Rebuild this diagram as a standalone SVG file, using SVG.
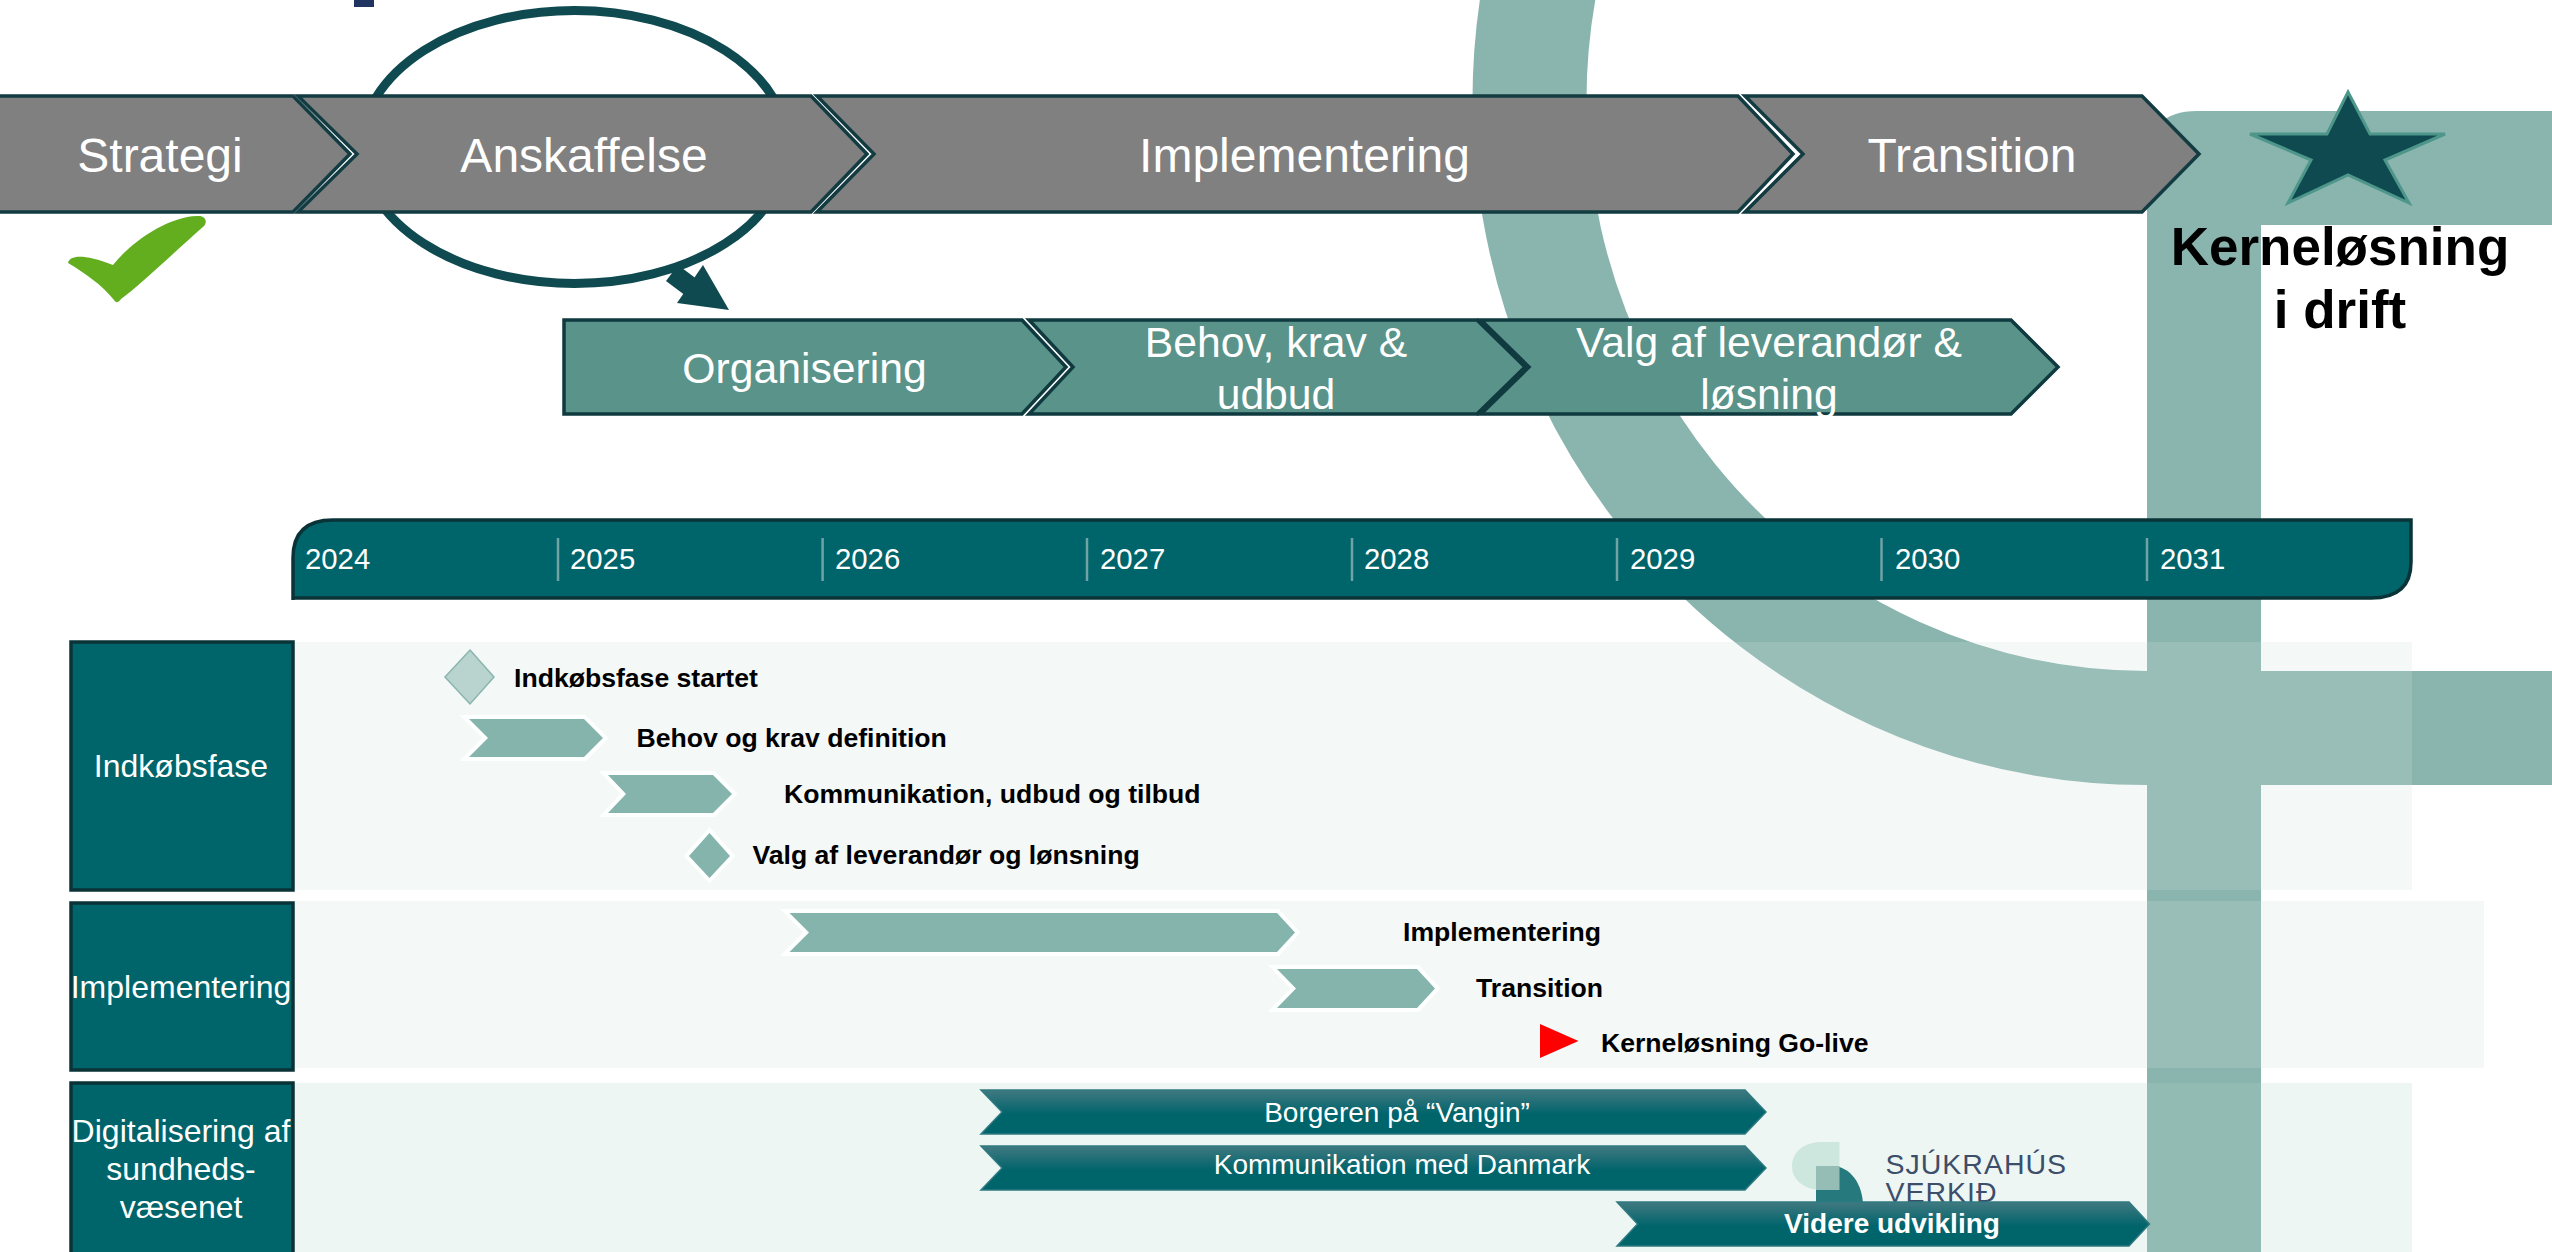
<svg xmlns="http://www.w3.org/2000/svg" width="2552" height="1252" viewBox="0 0 2552 1252">
<style>
text{font-family:"Liberation Sans",Arial,sans-serif}
.band{fill:#808080;stroke:#123c42;stroke-width:3.5}
.sub{fill:#5a9389;stroke:#0f3a3f;stroke-width:3.5}
.bt{font-size:48px;fill:#fff;text-anchor:middle}
.st{font-size:42.7px;fill:#fff;text-anchor:middle}
.bg{fill:#8ab5ae}
.panel{fill:#ccdeda;fill-opacity:.214}
.lab{fill:#00646b;stroke:#0a3338;stroke-width:3.5}
.lt{font-size:32px;fill:#fff;text-anchor:middle}
.yr{font-size:29.3px;fill:#fff}
.tick{stroke:#6fa3a5;stroke-width:2.5}
.it{font-size:26.6px;font-weight:bold;fill:#000}
.kn{font-size:53px;font-weight:bold;fill:#000;text-anchor:middle}
.chev{fill:#85b4ad;stroke:#fff;stroke-width:8;stroke-opacity:.9;paint-order:stroke}
.dark{fill:url(#g);stroke:#2f7a80;stroke-width:1.5}
.dt{font-size:28px;fill:#fff;text-anchor:middle}
.logo{font-size:28.5px;fill:#3c4e6a;letter-spacing:1px}
</style>
<defs>
<linearGradient id="g" x1="0" y1="0" x2="0" y2="1"><stop offset="0" stop-color="#417981"/><stop offset=".55" stop-color="#00646b"/><stop offset="1" stop-color="#00646b"/></linearGradient>
</defs>

<g id="backdrop">
<path class="bg" d="M2147,1252V161Q2147,111 2197,111H2552V225H2261V1252Z"/>
<path d="M1541,-20A617 628 0 0 0 2147,728H2552" fill="none" stroke="#8ab5ae" stroke-width="114"/>
<rect x="354" y="0" width="20" height="7" fill="#1f3560"/>
</g>

<g id="panels">
<rect class="panel" x="293" y="642" width="2119" height="248"/>
<rect class="panel" x="293" y="901" width="2191" height="167"/>
<rect x="293" y="1083" width="2119" height="169" fill="#b0d5c7" fill-opacity=".214"/>
</g>

<g id="connectors">
<ellipse cx="574.500" cy="147" rx="213" ry="136.500" fill="none" stroke="#0f4a50" stroke-width="9"/>
<path d="M672,273L692,288" stroke="#0f4a50" stroke-width="20" fill="none"/>
<polygon points="703,265 729,310 677,303" fill="#0f4a50"/>
</g>

<g id="check"><path d="M68,263C70,255 84,254 113,265C132,241 168,217 197,216C205,215 208,221 204,226C168,258 139,286 121,299C118,303 116,303 114,300C102,285 85,273 68,263Z" fill="#62ae1f"/></g>

<g id="strategi"><polygon class="band" points="-4,96 293,96 350,154 293,212 -4,212"/><text class="bt" x="160" y="172">Strategi</text></g>
<g id="anskaffelse"><polygon class="band" points="298,96 811,96 867,154 811,212 298,212 357,154"/><text class="bt" x="584" y="172">Anskaffelse</text></g>
<g id="implementering"><polygon class="band" points="817,96 1738,96 1793,154 1738,212 817,212 874,154"/><text class="bt" x="1304.500" y="172">Implementering</text></g>
<g id="transition"><polygon class="band" points="1745,96 2142,96 2199,154 2142,212 1745,212 1803,154"/><text class="bt" x="1972" y="172">Transition</text></g>

<g id="kerne">
<polygon points="2348,92 2370,134 2445,134 2385,160 2409,203 2348,175 2288,203 2311,160 2250,134 2327,134" fill="#0f4a50" stroke="#4d9689" stroke-width="3"/>
<text class="kn" x="2340" y="265">Kerneløsning</text>
<text class="kn" x="2340" y="328">i drift</text>
</g>

<g id="organisering"><polygon class="sub" points="564,320 1022,320 1066,367 1022,414 564,414"/><text class="st" x="804.500" y="383">Organisering</text></g>
<g id="behov"><polygon class="sub" points="1029,320 1477,320 1525,367 1477,414 1029,414 1073,367"/><text class="st" x="1276" y="357">Behov, krav &amp;</text><text class="st" x="1276" y="409">udbud</text></g>
<g id="valg"><polygon class="sub" points="1481,320 2011,320 2058,367 2011,414 1481,414 1529,367"/><text class="st" x="1769" y="357">Valg af leverandør &amp;</text><text class="st" x="1769" y="409">løsning</text></g>

<g id="timeline">
<path d="M293,600V558Q293,520 333,520H2411V562Q2411,598 2371,598H293Z" fill="#00646b" stroke="#0a3338" stroke-width="3.500"/>
<path class="tick" d="M558,538V581M822.600,538V581M1087,538V581M1352,538V581M1617,538V581M1881.500,538V581M2147,538V581"/>
<text class="yr" x="305" y="569">2024</text><text class="yr" x="570" y="569">2025</text><text class="yr" x="835" y="569">2026</text><text class="yr" x="1100" y="569">2027</text><text class="yr" x="1364" y="569">2028</text><text class="yr" x="1630" y="569">2029</text><text class="yr" x="1895" y="569">2030</text><text class="yr" x="2160" y="569">2031</text>
</g>

<g id="row-indkob">
<rect class="lab" x="71" y="642" width="222" height="248"/><text class="lt" x="181" y="777">Indkøbsfase</text>
</g>
<g id="row-impl">
<rect class="lab" x="71" y="903" width="222" height="167"/><text class="lt" x="181" y="998">Implementering</text>
</g>
<g id="row-digi">
<rect class="lab" x="71" y="1083" width="222" height="180"/><text class="lt" x="181" y="1142">Digitalisering af</text><text class="lt" x="181" y="1180">sundheds-</text><text class="lt" x="181" y="1218">væsenet</text>
</g>

<g id="m-start"><polygon points="470,650 494,677 470,704 445,677" fill="#b9d4cf" stroke="#8ab5ae" stroke-width="1.500"/><text class="it" x="514" y="687">Indkøbsfase startet</text></g>
<g id="t-behov"><polygon class="chev" points="469,719 584,719 603,738 584,757 469,757 488,738"/><text class="it" x="636.500" y="747">Behov og krav definition</text></g>
<g id="t-komm"><polygon class="chev" points="608,775 713,775 732,794 713,813 608,813 626,794"/><text class="it" x="784" y="803">Kommunikation, udbud og tilbud</text></g>
<g id="m-valg"><polygon class="chev" points="709.500,833 730,856 709.500,878 689,856"/><text class="it" x="752.500" y="864">Valg af leverandør og lønsning</text></g>
<g id="t-impl"><polygon class="chev" points="789.500,913 1277,913 1295,932.500 1277,952 789.500,952 809,932.500"/><text class="it" x="1403" y="941">Implementering</text></g>
<g id="t-trans"><polygon class="chev" points="1277,969 1417,969 1435,988.500 1417,1008 1277,1008 1296,988.500"/><text class="it" x="1476" y="997">Transition</text></g>
<g id="m-golive"><polygon points="1540,1024 1578.500,1041 1540,1058" fill="#f00"/><text class="it" x="1601" y="1052">Kerneløsning Go-live</text></g>

<g id="logo">
<path d="M1839.500,1142V1190H1822C1804,1190 1792,1180 1792,1166C1792,1152 1804,1142 1822,1142Z" fill="#cde6de"/>
<path d="M1816,1166H1832C1850,1166 1863,1184 1863,1206H1816Z" fill="#26797d"/>
<rect x="1816" y="1166" width="23.500" height="24" fill="#95bdb5"/>
<text class="logo" x="1885.500" y="1174">SJÚKRAHÚS</text>
<text class="logo" x="1885.500" y="1202">VERKIÐ</text>
</g>

<g id="b-borger"><polygon class="dark" points="981,1090 1745,1090 1766,1112 1745,1134 981,1134 1002,1112"/><text class="dt" x="1397" y="1122">Borgeren på “Vangin”</text></g>
<g id="b-komm"><polygon class="dark" points="981,1146 1745,1146 1766,1168 1745,1190 981,1190 1002,1168"/><text class="dt" x="1402" y="1174">Kommunikation med Danmark</text></g>
<g id="b-videre"><polygon class="dark" points="1617,1202 2129,1202 2149.500,1224 2129,1246 1617,1246 1637.500,1224"/><text class="dt" x="1892" y="1233" font-weight="bold">Videre udvikling</text></g>
</svg>
